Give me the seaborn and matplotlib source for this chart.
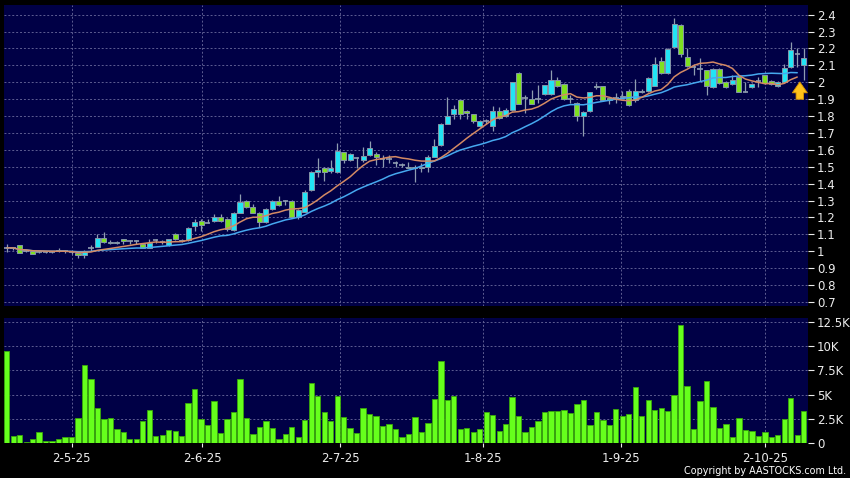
import numpy as np
import pandas as pd
import matplotlib
matplotlib.use("Agg")
import matplotlib.pyplot as plt
import seaborn as sns

# ---------------- data ----------------
tick_pos = [10.0, 30.2, 51.5, 73.5, 94.8, 117.0]
tick_labels = ["2-5-25", "2-6-25", "2-7-25", "1-8-25", "1-9-25", "2-10-25"]

opens = [1.02, 1.02, 1.035, 1.0, 1.0, 0.995, 0.995, 0.995, 1.01, 1.0,
         0.995, 0.99, 0.975, 1.018, 1.028, 1.077, 1.055, 1.05, 1.07, 1.06,
         1.06, 1.042, 1.022, 1.065, 1.055, 1.035, 1.1, 1.065, 1.065, 1.148,
         1.178, 1.168, 1.178, 1.2, 1.188, 1.125, 1.228, 1.3, 1.26, 1.228,
         1.174, 1.248, 1.3, 1.3, 1.3, 1.205, 1.235, 1.36, 1.466, 1.49,
         1.474, 1.466, 1.588, 1.537, 1.549, 1.537, 1.568, 1.578, 1.545, 1.545,
         1.52, 1.51, 1.5, 1.5, 1.49, 1.5, 1.559, 1.63, 1.753, 1.812,
         1.893, 1.827, 1.812, 1.741, 1.772, 1.741, 1.827, 1.8, 1.833, 2.054,
         1.906, 1.9, 1.9, 1.93, 1.93, 2.015, 1.99, 1.9, 1.88, 1.798,
         1.828, 1.98, 1.975, 1.908, 1.906, 1.918, 1.951, 1.892, 1.941, 1.947,
         1.98, 2.128, 2.054, 2.211, 2.339, 2.152, 2.09, 2.08, 2.07, 1.971,
         2.078, 2.0, 1.991, 2.03, 1.945, 1.971, 2.005, 2.04, 2.01, 1.975,
         2.0, 2.089, 2.17, 2.1]
highs = [1.045, 1.025, 1.035, 1.005, 1.0, 1.0, 1.0, 1.0, 1.02, 1.005,
         1.0, 0.995, 1.005, 1.035, 1.1, 1.115, 1.065, 1.06, 1.075, 1.065,
         1.065, 1.045, 1.07, 1.075, 1.065, 1.075, 1.105, 1.07, 1.145, 1.19,
         1.19, 1.19, 1.22, 1.22, 1.195, 1.235, 1.338, 1.305, 1.28, 1.23,
         1.255, 1.305, 1.325, 1.305, 1.305, 1.25, 1.36, 1.475, 1.55, 1.5,
         1.537, 1.64, 1.59, 1.58, 1.555, 1.618, 1.65, 1.585, 1.57, 1.57,
         1.535, 1.52, 1.53, 1.51, 1.52, 1.57, 1.667, 1.76, 1.91, 1.865,
         1.895, 1.835, 1.815, 1.775, 1.785, 1.86, 1.853, 1.845, 2.0, 2.06,
         1.925, 1.955, 1.985, 1.985, 2.074, 2.03, 1.995, 1.925, 1.885, 1.83,
         1.945, 1.995, 1.98, 1.915, 1.935, 1.95, 1.96, 2.02, 1.96, 2.03,
         2.15, 2.15, 2.2, 2.38, 2.345, 2.2, 2.11, 2.145, 2.075, 2.085,
         2.085, 2.005, 2.04, 2.035, 2.0, 1.995, 2.03, 2.045, 2.015, 2.01,
         2.11, 2.24, 2.2, 2.2]
lows = [0.995, 1.01, 0.99, 0.995, 0.984, 0.99, 0.99, 0.99, 0.995, 0.99,
        0.985, 0.96, 0.96, 1.0, 1.025, 1.05, 1.045, 1.045, 1.04, 1.04,
        1.045, 1.02, 1.02, 1.05, 1.045, 1.03, 1.065, 1.055, 1.06, 1.12,
        1.12, 1.165, 1.175, 1.175, 1.12, 1.12, 1.225, 1.255, 1.225, 1.145,
        1.17, 1.245, 1.27, 1.275, 1.195, 1.19, 1.23, 1.355, 1.44, 1.415,
        1.465, 1.46, 1.52, 1.535, 1.49, 1.53, 1.565, 1.51, 1.5, 1.52,
        1.5, 1.5, 1.49, 1.41, 1.47, 1.47, 1.555, 1.625, 1.75, 1.78,
        1.78, 1.78, 1.76, 1.735, 1.75, 1.71, 1.78, 1.795, 1.83, 1.87,
        1.816, 1.87, 1.88, 1.925, 1.925, 1.97, 1.895, 1.875, 1.77, 1.68,
        1.825, 1.96, 1.89, 1.87, 1.88, 1.9, 1.86, 1.885, 1.935, 1.94,
        1.975, 2.05, 2.05, 2.2, 2.15, 2.09, 2.04, 2.01, 1.925, 1.965,
        1.99, 1.965, 1.985, 1.94, 1.94, 1.965, 1.97, 1.99, 1.985, 1.97,
        1.995, 2.085, 2.09, 2.015]
closes = [1.02, 1.02, 0.99, 1.0, 0.985, 0.995, 0.995, 0.995, 1.0, 1.0,
          0.995, 0.975, 1.0, 1.018, 1.077, 1.053, 1.05, 1.055, 1.06, 1.06,
          1.06, 1.022, 1.047, 1.065, 1.055, 1.07, 1.07, 1.06, 1.14, 1.172,
          1.158, 1.168, 1.2, 1.178, 1.13, 1.228, 1.29, 1.26, 1.228, 1.174,
          1.248, 1.3, 1.274, 1.3, 1.2, 1.245, 1.35, 1.466, 1.48, 1.466,
          1.49, 1.594, 1.539, 1.574, 1.549, 1.563, 1.608, 1.56, 1.545, 1.545,
          1.52, 1.51, 1.49, 1.495, 1.5, 1.56, 1.62, 1.753, 1.798, 1.841,
          1.812, 1.817, 1.768, 1.768, 1.772, 1.827, 1.788, 1.837, 2.0, 1.873,
          1.906, 1.873, 1.9, 1.981, 2.015, 1.975, 1.9, 1.9, 1.798, 1.822,
          1.94, 1.97, 1.896, 1.892, 1.906, 1.912, 1.867, 1.951, 1.951, 2.026,
          2.108, 2.054, 2.197, 2.345, 2.168, 2.099, 2.09, 2.08, 1.975, 2.079,
          1.995, 1.971, 2.015, 1.94, 1.945, 1.99, 2.005, 1.995, 1.99, 2.0,
          2.083, 2.19, 2.17, 2.142]
volume_k = [9.49, 0.79, 0.86, 0.1, 0.41, 1.2, 0.27, 0.24, 0.41, 0.62,
            0.68, 2.57, 8.05, 6.58, 3.63, 2.5, 2.64, 1.44, 1.16, 0.41,
            0.41, 2.29, 3.43, 0.75, 0.86, 1.34, 1.27, 0.75, 4.18, 5.62,
            2.47, 1.85, 4.35, 1.1, 2.53, 3.22, 6.58, 2.6, 0.92, 1.71,
            2.29, 1.58, 0.48, 0.92, 1.71, 0.68, 2.4, 6.23, 4.86, 3.22,
            2.26, 4.83, 2.74, 1.54, 1.06, 3.63, 3.01, 2.84, 1.78, 1.99,
            1.51, 0.62, 0.99, 2.74, 1.16, 2.06, 4.52, 8.43, 4.42, 4.9,
            1.47, 1.61, 1.13, 1.47, 3.19, 2.95, 1.23, 1.95, 4.73, 2.81,
            1.16, 1.71, 2.29, 3.25, 3.32, 3.32, 3.43, 3.12, 4.04, 4.42,
            1.88, 3.19, 2.4, 1.88, 3.49, 2.84, 2.98, 5.75, 2.77, 4.49,
            3.43, 3.63, 3.36, 5.0, 12.12, 5.86, 1.51, 4.38, 6.4, 3.77,
            1.58, 2.02, 0.65, 2.57, 1.4, 1.23, 0.75, 1.16, 0.65, 0.82,
            2.47, 4.66, 0.82, 3.29]
price_ticks = [0.7, 0.8, 0.9, 1.0, 1.1, 1.2, 1.3, 1.4, 1.5, 1.6, 1.7, 1.8,
               1.9, 2.0, 2.1, 2.2, 2.3, 2.4]
vol_ticks = [0, 2.5, 5, 7.5, 10, 12.5]
vol_tick_labels = ["0", "2.5K", "5K", "7.5K", "10K", "12.5K"]
arrow_at = 122.4

# ---------------- frame ----------------
n = len(closes)
df = pd.DataFrame({"i": np.arange(n), "open": opens, "high": highs,
                   "low": lows, "close": closes, "vol": volume_k})
# moving averages exclude the live (last) bar
hist = df.iloc[:-1].copy()
hist["ma10"] = hist["close"].rolling(10, min_periods=1).mean()
hist["ma20"] = hist["close"].rolling(20, min_periods=1).mean()

sns.set_theme(style="dark")
plt.rcParams["font.family"] = ["DejaVu Sans"]

BG = "#000046"
GRID = "#5d5d92"
TXT = "#ececec"
CYAN = "#22e4f4"
GREEN = "#7ee021"
WICK = "#8f9db0"

W, H = 850, 478
fig = plt.figure(figsize=(W / 100, H / 100), dpi=100, facecolor="black")
axp = fig.add_axes([4 / W, 1 - 306 / H, 804 / W, 301 / H], facecolor=BG)
axv = fig.add_axes([4 / W, 1 - 443.3 / H, 804 / W, 125.3 / H], facecolor=BG)

xlim = (-0.42, 123.66)

# ---- price panel ----
up = df["close"] > df["open"] + 0.004
down = df["close"] < df["open"] - 0.004
doji = ~(up | down)

axp.vlines(df["i"], df["low"], df["high"], color=WICK, linewidth=0.9, zorder=2)
body_lo = np.minimum(df["open"], df["close"])
body_h = (df["close"] - df["open"]).abs()
axp.bar(df["i"][up], body_h[up], bottom=body_lo[up], width=0.78,
        color=CYAN, edgecolor="#8595a8", linewidth=0.7, zorder=3)
axp.bar(df["i"][down], body_h[down], bottom=body_lo[down], width=0.78,
        color=GREEN, edgecolor="#8595a8", linewidth=0.7, zorder=3)
axp.hlines(df["close"][doji], df["i"][doji] - 0.42, df["i"][doji] + 0.42,
           color=WICK, linewidth=1.2, zorder=3)

sns.lineplot(data=hist, x="i", y="ma20", color="#46a8ef", linewidth=1.1,
             ax=axp, zorder=4)
sns.lineplot(data=hist, x="i", y="ma10", color="#d48a64", linewidth=1.1,
             ax=axp, zorder=4)

axp.annotate("", xy=(arrow_at, 2.018), xytext=(arrow_at, 1.883),
             arrowprops=dict(arrowstyle="simple,head_width=0.9,head_length=0.65,tail_width=0.45",
                             fc="#ffc21a", ec="#d99500", lw=0.6),
             zorder=6)

axp.set_xlim(*xlim)
axp.set_ylim(0.676, 2.457)
axp.set_yticks(price_ticks)
axp.set_yticklabels([f"{v:g}" for v in price_ticks])
axp.set_xticks(tick_pos)
axp.set_xticklabels([])
axp.yaxis.tick_right()
axp.tick_params(axis="y", colors=TXT, labelsize=8.5, length=4, width=0.8,
                direction="out", pad=2.5, right=True, left=False)
axp.tick_params(axis="x", length=0, bottom=False)
axp.grid(True, color=GRID, linestyle=(0, (2, 2)), linewidth=0.7)
axp.set_xlabel("")
axp.set_ylabel("")
for s in axp.spines.values():
    s.set_visible(False)

# ---- volume panel ----
sns.barplot(data=df, x="i", y="vol", native_scale=True, width=0.82,
            color="#66ff1c", saturation=1, edgecolor="#3aa80a",
            linewidth=0.6, errorbar=None, ax=axv, zorder=3)
axv.set_xlim(*xlim)
axv.set_ylim(0, 12.88)
axv.set_yticks(vol_ticks)
axv.set_yticklabels(vol_tick_labels)
axv.set_xticks(tick_pos)
axv.set_xticklabels(tick_labels)
axv.yaxis.tick_right()
axv.tick_params(axis="y", colors=TXT, labelsize=8.5, length=4, width=0.8,
                direction="out", pad=2.5, right=True, left=False)
axv.tick_params(axis="x", colors=TXT, labelsize=8.5, length=3, width=0.8,
                direction="out", pad=3, bottom=True)
axv.grid(True, color=GRID, linestyle=(0, (2, 2)), linewidth=0.7)
axv.set_axisbelow(True)
axv.set_xlabel("")
axv.set_ylabel("")
for s in axv.spines.values():
    s.set_visible(False)

fig.text(846 / W, 1 - 471 / H, "Copyright by AASTOCKS.com Ltd.",
         ha="right", va="center", color="white", fontsize=6.9)

fig.savefig("out.png", dpi=100, facecolor="black")
